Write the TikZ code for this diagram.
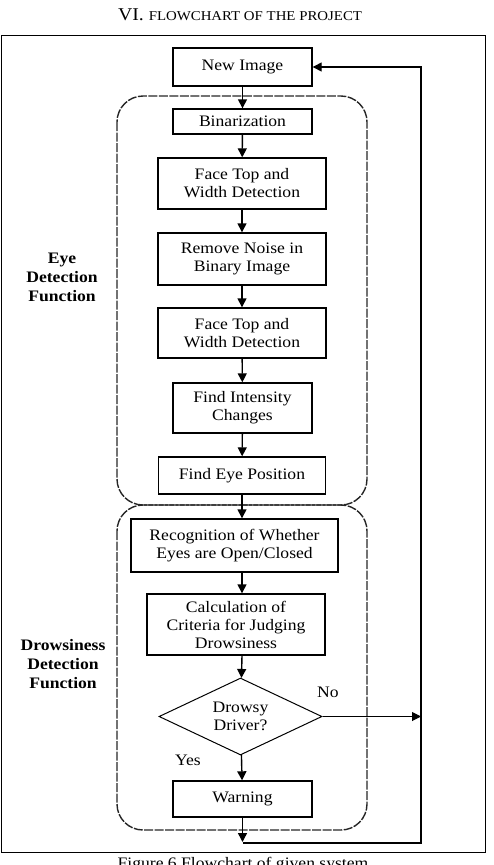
\documentclass[tikz,border=0pt]{standalone}
\usepackage{fontspec}
\setmainfont{Liberation Serif}[FakeStretch=1.1]
\usepackage{tikz}
\usetikzlibrary{arrows.meta,positioning,shapes.geometric,calc}
\tikzset{
  blk/.style={draw,line width=1.4pt,align=center,inner sep=0pt,font=\fontsize{16}{18}\selectfont},
  dec/.style={draw,diamond,line width=1pt,align=center,inner sep=0pt,aspect=2.1,font=\fontsize{16}{18}\selectfont},
  arr/.style={-{Triangle[length=9pt,width=9pt]},line width=1.4pt},
  region/.style={rounded corners=26pt,line width=1.4pt,color=black!85,dash pattern=on 9pt off 1.5pt},
  side/.style={font=\bfseries\fontsize{16}{19}\selectfont,align=center},
  ans/.style={font=\fontsize{16}{18}\selectfont},
}
\begin{document}
\begin{tikzpicture}[x=1pt,y=-1pt]
\useasboundingbox (0,0) rectangle (493,865);
% title, frame and caption
\node (title) at (240,15) {\fontsize{18}{20}\selectfont VI. {\fontsize{13.5}{15}\selectfont FLOWCHART OF THE PROJECT}};
\draw[line width=1pt] (1,35) rectangle (485,852);
\node[anchor=north,font=\fontsize{16}{18}\selectfont] (cap) at (243,854) {Figure 6 Flowchart of given system};
% function regions
\draw[region] (117,96) rectangle (367,505);
\draw[region] (117,505) rectangle (367,830);
\node[side] (eyelbl) at (62,277) {Eye\\Detection\\Function};
\node[side] (drwlbl) at (63,664) {Drowsiness\\Detection\\Function};
% steps
\node[blk,minimum width=139pt,minimum height=38pt] (newimg) at (242.5,67) {New Image};
\node[blk,minimum width=139pt,minimum height=25pt] (binar) at (242.5,121.5) {Binarization};
\node[blk,minimum width=168pt,minimum height=51pt] (face1) at (242,183.5) {Face Top and\\Width Detection};
\node[blk,minimum width=168pt,minimum height=52pt] (noise) at (242,259) {Remove Noise in\\Binary Image};
\node[blk,minimum width=168pt,minimum height=50pt] (face2) at (242,333) {Face Top and\\Width Detection};
\node[blk,minimum width=139pt,minimum height=50pt] (intens) at (242.5,408) {Find Intensity\\Changes};
\node[blk,minimum width=167pt,minimum height=37pt] (eyepos) at (242,475.5) {Find Eye Position};
\node[blk,minimum width=207pt,minimum height=53pt] (recog) at (234.5,545.5) {Recognition of Whether\\Eyes are Open/Closed};
\node[blk,minimum width=178pt,minimum height=61pt] (calc) at (236,624.5) {Calculation of\\Criteria for Judging\\Drowsiness};
\node[dec,minimum width=163pt,minimum height=77pt] (drowsy) at (240.5,716.5) {Drowsy\\Driver?};
\node[blk,minimum width=139pt,minimum height=36pt] (warn) at (242.5,799) {Warning};
\node[ans] (no) at (328,692) {No};
\node[ans] (yes) at (188,760) {Yes};
\coordinate (bot) at (242.5,842);
\coordinate (loopr) at (421,843);
% connectors
\draw[arr] (newimg) -- (binar);
\draw[arr] (binar) -- (face1);
\draw[arr] (face1) -- (noise);
\draw[arr] (noise) -- (face2);
\draw[arr] (face2) -- (intens);
\draw[arr] (intens) -- (eyepos);
\draw[arr] (eyepos) -- (eyepos |- recog.north);
\draw[arr] (eyepos |- recog.south) -- (eyepos |- calc.north);
\draw[arr] (eyepos |- calc.south) -- (drowsy);
\draw[arr] (drowsy) -- (warn);
\draw[arr] (warn) -- (bot);
\draw[arr,line width=1pt] (drowsy.east) -- (drowsy.east -| loopr);
\draw[arr] (bot |- loopr) -- (loopr) |- (newimg.east);
\end{tikzpicture}
\end{document}
